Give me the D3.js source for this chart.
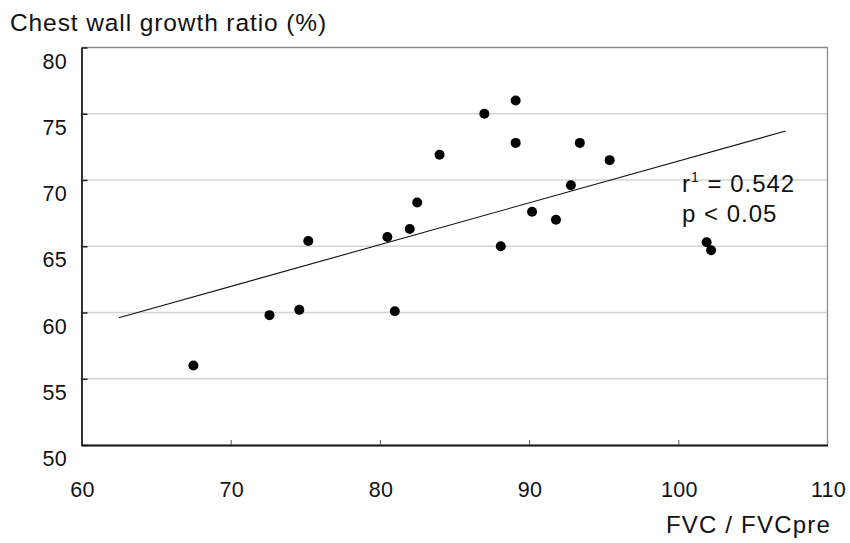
<!DOCTYPE html>
<html>
<head>
<meta charset="utf-8">
<script src="https://cdn.jsdelivr.net/npm/d3@7"></script>
<style>
  html, body { margin: 0; padding: 0; background: #fff; }
  svg { display: block; }
  text { font-family: "Liberation Sans", Arial, Helvetica, sans-serif; fill: #111; }
</style>
</head>
<body>
<svg id="chart" width="850" height="543"></svg>
<script>
// ---- data ----
const fvcRatio = [67.5, 72.6, 74.6, 75.2, 80.5, 81.0, 82.0, 82.5, 84.0, 87.0, 88.1, 89.1, 89.1, 90.2, 91.8, 92.8, 93.4, 95.4, 101.9, 102.2];
const growthRatio = [56.0, 59.8, 60.2, 65.4, 65.7, 60.1, 66.3, 68.3, 71.9, 75.0, 65.0, 76.0, 72.8, 67.6, 67.0, 69.6, 72.8, 71.5, 65.3, 64.7];
const fitX = [62.5, 107.2];
const fitY = [59.6, 73.7];
const xTicks = [60, 70, 80, 90, 100, 110];
const yTicks = [50, 55, 60, 65, 70, 75, 80];
const titleY = "Chest wall growth ratio (%)";
const titleX = "FVC / FVCpre";
const annotR = "0.542";
const annotP = "p < 0.05";

// ---- layout ----
const svg = d3.select("#chart");
const mLeft = 81.5, mRight = 827.5, mTop = 47.5, mBottom = 445;
const x = d3.scaleLinear().domain([60, 110]).range([mLeft, mRight]);
const y = d3.scaleLinear().domain([50, 80]).range([mBottom, mTop]);

// gridlines
svg.append("g").selectAll("line")
  .data(yTicks.filter(d => d > 50 && d < 80))
  .join("line")
  .attr("x1", mLeft).attr("x2", mRight)
  .attr("y1", d => y(d)).attr("y2", d => y(d))
  .attr("stroke", "#d4d4d4").attr("stroke-width", 1.3);

// top and right border
svg.append("path")
  .attr("d", `M${mLeft},${mTop}H${mRight}V${mBottom}`)
  .attr("fill", "none").attr("stroke", "#8a8a8a").attr("stroke-width", 1.3);

// y axis (ticks inward)
const yAxis = svg.append("g").attr("transform", `translate(${mLeft},0)`)
  .call(d3.axisRight(y).tickValues(yTicks).tickSize(6).tickSizeOuter(0).tickFormat(""));
yAxis.select(".domain").attr("stroke", "#333").attr("stroke-width", 2);
yAxis.selectAll(".tick line").attr("stroke", "#222").attr("stroke-width", 1.5);

// x axis (ticks inward)
const xAxis = svg.append("g").attr("transform", `translate(0,${mBottom})`)
  .call(d3.axisTop(x).tickValues(xTicks.filter(d => d > 60 && d < 110)).tickSize(5).tickSizeOuter(0).tickFormat(""));
xAxis.select(".domain").attr("stroke", "#111").attr("stroke-width", 1.8);
xAxis.selectAll(".tick line").attr("stroke", "#555").attr("stroke-width", 1);

// y tick labels (offset below their ticks, as in original)
svg.append("g").selectAll("text")
  .data(yTicks).join("text")
  .attr("x", 67).attr("y", d => y(d) + 21)
  .attr("text-anchor", "end")
  .attr("font-size", 21.5)
  .style("letter-spacing", "0.3px")
  .text(d => d);

// x tick labels
svg.append("g").selectAll("text")
  .data(xTicks).join("text")
  .attr("x", d => x(d) + 1).attr("y", 497)
  .attr("text-anchor", "middle")
  .attr("font-size", 21.5)
  .style("letter-spacing", "0.3px")
  .text(d => d);

// regression line
svg.append("line")
  .attr("x1", x(fitX[0])).attr("y1", y(fitY[0]))
  .attr("x2", x(fitX[1])).attr("y2", y(fitY[1]))
  .attr("stroke", "#111").attr("stroke-width", 1.1);

// points
svg.append("g").selectAll("circle")
  .data(fvcRatio.map((v, i) => [v, growthRatio[i]]))
  .join("circle")
  .attr("cx", d => x(d[0])).attr("cy", d => y(d[1]))
  .attr("r", 5).attr("fill", "#000");

// titles
svg.append("text").attr("x", 10).attr("y", 31)
  .attr("font-size", 24.5).style("letter-spacing", "0.9px")
  .text(titleY);
svg.append("text").attr("x", 831).attr("y", 533)
  .attr("text-anchor", "end")
  .attr("font-size", 24).style("letter-spacing", "1.2px")
  .text(titleX);

// annotation
const t1 = svg.append("text").attr("x", 682).attr("y", 192)
  .attr("font-size", 24).style("letter-spacing", "1.0px");
t1.append("tspan").text("r");
t1.append("tspan").attr("dy", -10).attr("font-size", 14).text("1");
t1.append("tspan").attr("dy", 10).text(" = " + annotR);
svg.append("text").attr("x", 682).attr("y", 222)
  .attr("font-size", 24).style("letter-spacing", "1.0px")
  .text(annotP);
</script>
</body>
</html>
